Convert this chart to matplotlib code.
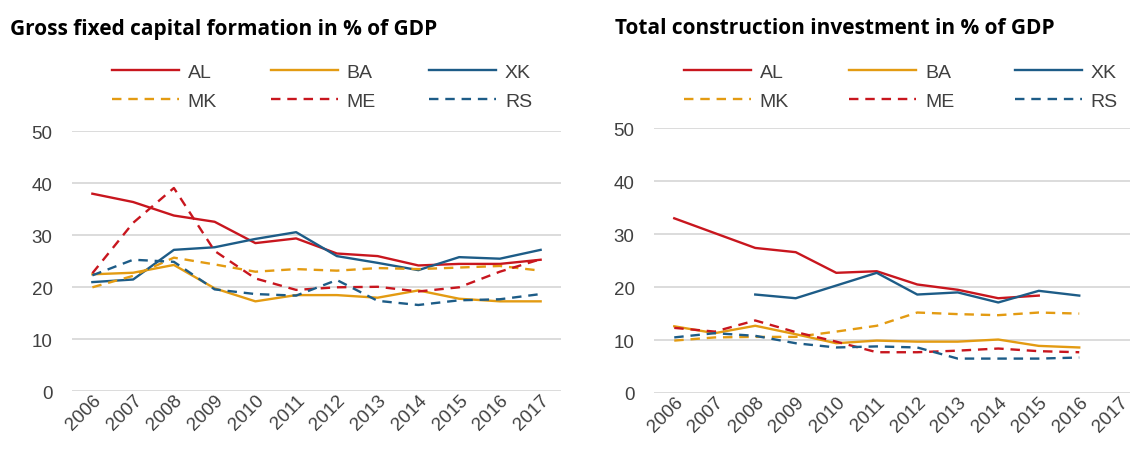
import numpy as np
import matplotlib
matplotlib.use("Agg")
import matplotlib.pyplot as plt
import matplotlib.transforms as mtransforms

years = ["2006", "2007", "2008", "2009", "2010", "2011", "2012", "2013", "2014", "2015", "2016", "2017"]
nan = np.nan

# Gross fixed capital formation in % of GDP
gfcf_AL = [38.0, 36.4, 33.8, 32.6, 28.5, 29.4, 26.5, 26.0, 24.2, 24.5, 24.5, 25.3]
gfcf_BA = [22.5, 22.8, 24.3, 19.8, 17.3, 18.5, 18.5, 18.0, 19.4, 17.8, 17.3, 17.3]
gfcf_XK = [21.0, 21.5, 27.2, 27.7, 29.3, 30.6, 26.0, 24.7, 23.3, 25.8, 25.5, 27.2]
gfcf_MK = [20.0, 22.2, 25.7, 24.4, 23.0, 23.5, 23.2, 23.7, 23.5, 23.8, 24.1, 23.2]
gfcf_ME = [22.7, 32.4, 39.1, 27.0, 21.7, 19.5, 20.0, 20.1, 19.2, 20.0, 23.0, 25.4]
gfcf_RS = [22.3, 25.3, 24.9, 19.6, 18.7, 18.4, 21.4, 17.4, 16.6, 17.5, 17.7, 18.7]

# Total construction investment in % of GDP
con_AL = [33.0, 30.2, 27.4, 26.6, 22.7, 23.0, 20.5, 19.5, 17.9, 18.4, nan, nan]
con_BA = [12.6, 11.3, 12.7, 11.1, 9.4, 9.9, 9.7, 9.7, 10.1, 8.9, 8.6, nan]
con_XK = [nan, nan, 18.6, 17.9, 20.3, 22.7, 18.6, 19.0, 17.1, 19.3, 18.4, nan]
con_MK = [9.9, 10.5, 10.6, 10.6, 11.6, 12.7, 15.2, 14.9, 14.7, 15.2, 15.0, nan]
con_ME = [12.3, 11.6, 13.7, 11.5, 9.7, 7.7, 7.7, 8.0, 8.4, 7.9, 7.7, nan]
con_RS = [10.5, 11.3, 10.8, 9.4, 8.6, 8.8, 8.6, 6.5, 6.5, 6.5, 6.7, nan]

titles = ["Gross fixed capital formation in % of GDP", "Total construction investment in % of GDP"]
yticks = [0, 10, 20, 30, 40, 50]

RED = "#C8161E"
ORANGE = "#E39B12"
BLUE = "#1D5C87"
TXT = "#404040"
GRID = "#D9D9D9"

plt.rcParams["font.family"] = ["Liberation Sans", "DejaVu Sans"]

fig = plt.figure(figsize=(11.3, 4.52), dpi=100)
W, H = 1130.0, 452.0

def ax_rect(x0, x1, ytop, ybot):
    return [x0 / W, 1 - ybot / H, (x1 - x0) / W, (ybot - ytop) / H]

axL = fig.add_axes(ax_rect(72, 561, 132.3, 392.3))
axR = fig.add_axes(ax_rect(654, 1140, 129.3, 394.0))

series_L = [("AL", gfcf_AL), ("BA", gfcf_BA), ("XK", gfcf_XK), ("MK", gfcf_MK), ("ME", gfcf_ME), ("RS", gfcf_RS)]
series_R = [("AL", con_AL), ("BA", con_BA), ("XK", con_XK), ("MK", con_MK), ("ME", con_ME), ("RS", con_RS)]
styles = {
    "AL": (RED, "solid"), "BA": (ORANGE, "solid"), "XK": (BLUE, "solid"),
    "MK": (ORANGE, "dashed"), "ME": (RED, "dashed"), "RS": (BLUE, "dashed"),
}
LW = 1.7
DASH = (4.0, 2.9)

x = np.arange(len(years))
for ax, series, title, (tx, lx, dx, csp) in zip([axL, axR], [series_L, series_R], titles,
                                                [(10, 112, 6, 2.75), (615, 684, 3, 3.1)]):
    handles = {}
    for name, vals in series:
        col, ls = styles[name]
        kw = dict(color=col, lw=LW, solid_joinstyle="round")
        if ls == "dashed":
            kw["dashes"] = DASH
        ln, = ax.plot(x, np.array(vals, dtype=float), label=name, **kw)
        handles[name] = ln
    ax.set_xlim(-0.5, len(years) - 0.5)
    ax.set_ylim(0, 50)
    ax.set_yticks(yticks)
    ax.set_xticks(x)
    ax.set_xticklabels(years, rotation=45, ha="right", va="top", rotation_mode="anchor")
    ax.yaxis.grid(True, color=GRID, lw=1.3)
    ax.set_axisbelow(True)
    for s in ax.spines.values():
        s.set_visible(False)
    ax.tick_params(axis="both", length=0, labelsize=13.5, labelcolor=TXT)
    ax.tick_params(axis="y", pad=14)
    offset = mtransforms.ScaledTranslation(dx / 100, -16 / 100, fig.dpi_scale_trans)
    for lab in ax.get_xticklabels():
        lab.set_transform(lab.get_transform() + offset)
    ax.tick_params(axis="x", pad=0)
    fig.text(tx / W, 1 - 34.5 / H, title, fontsize=15.0, fontweight="bold",
             family=["Open Sans", "DejaVu Sans"], color="black", va="baseline", ha="left")
    order = ["AL", "MK", "BA", "ME", "XK", "RS"]
    fig.legend([handles[k] for k in order], order, ncol=3,
               loc="upper left", bbox_to_anchor=(lx / W, 1 - 64 / H),
               frameon=False, fontsize=14, labelcolor=TXT,
               handlelength=3.45, handletextpad=0.45, columnspacing=csp,
               labelspacing=0.58, borderpad=0, borderaxespad=0)

fig.savefig("out.png", dpi=100)
